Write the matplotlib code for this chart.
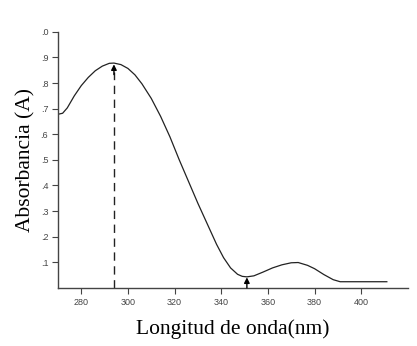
import matplotlib.pyplot as plt

# absorption spectrum
wavelength = [270, 272, 274, 277, 280, 283, 286, 289, 292, 294, 297, 300, 303, 306,
              310, 314, 318, 322, 326, 330, 334, 338, 341, 344, 347, 349, 351, 354,
              358, 362, 366, 370, 373, 377, 380, 384, 388, 391, 400, 411]
absorbance = [0.678, 0.682, 0.703, 0.750, 0.790, 0.822, 0.848, 0.866, 0.877, 0.878,
              0.872, 0.857, 0.832, 0.797, 0.740, 0.670, 0.590, 0.500, 0.415, 0.330,
              0.250, 0.170, 0.118, 0.078, 0.053, 0.045, 0.043, 0.047, 0.062, 0.078,
              0.090, 0.098, 0.099, 0.088, 0.075, 0.052, 0.032, 0.024, 0.024, 0.024]

peak_nm, peak_abs = 294, 0.873
min_nm, min_abs = 351, 0.041

xticks = [280, 300, 320, 340, 360, 380, 400]
yticks = [0.1, 0.2, 0.3, 0.4, 0.5, 0.6, 0.7, 0.8, 0.9, 1.0]
ytick_labels = [".1", ".2", ".3", ".4", ".5", ".6", ".7", ".8", ".9", ".0"]

fig = plt.figure(figsize=(4.17, 3.46), dpi=100)
ax = fig.add_axes([0.139, 0.168, 0.839, 0.740])

ax.plot(wavelength, absorbance, color="#222222", linewidth=0.9)

# ── dashed marker line to the maximum, small arrow to the minimum
ax.plot([peak_nm, peak_nm], [0, peak_abs - 0.03], color="#222222",
        linewidth=1.0, linestyle=(0, (6, 4)))
ax.annotate("", xy=(peak_nm, peak_abs), xytext=(peak_nm, peak_abs - 0.04),
            arrowprops=dict(arrowstyle="-|>", color="black", lw=1.0,
                            mutation_scale=8, shrinkA=0, shrinkB=0))
ax.annotate("", xy=(min_nm, min_abs), xytext=(min_nm, 0.0),
            arrowprops=dict(arrowstyle="-|>", color="black", lw=1.0,
                            mutation_scale=8, shrinkA=0, shrinkB=0))

ax.set_xlim(270, 420)
ax.set_ylim(0, 1.0)
ax.set_xticks(xticks)
ax.set_yticks(yticks)
ax.set_yticklabels(ytick_labels)

for side in ("top", "right"):
    ax.spines[side].set_visible(False)
for side in ("left", "bottom"):
    ax.spines[side].set_color("#444444")
    ax.spines[side].set_linewidth(1.0)

ax.tick_params(axis="both", direction="out", length=4, width=0.8,
               color="#444444", labelsize=6.5, labelcolor="#444444", pad=3)
for lab in ax.get_xticklabels() + ax.get_yticklabels():
    lab.set_family("Liberation Sans")

ax.set_xlabel("Longitud de onda(nm)", family="Liberation Serif", fontsize=15.5,
              labelpad=9)
ax.set_ylabel("Absorbancia (A)", family="Liberation Serif", fontsize=15.5,
              labelpad=4)

fig.savefig("out.png", dpi=100)
